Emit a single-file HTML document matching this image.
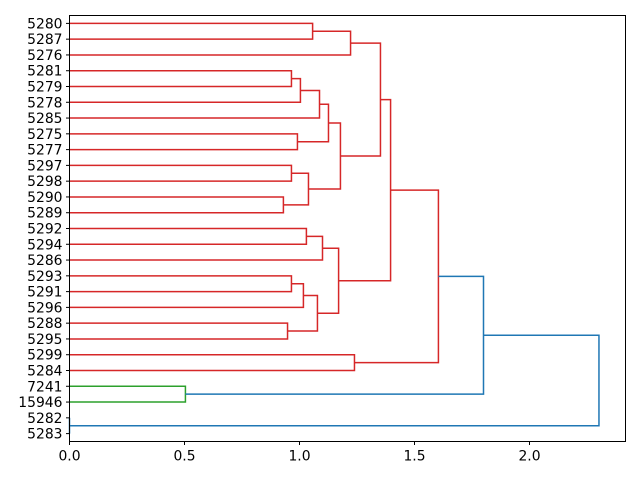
<!DOCTYPE html>
<html><head><meta charset="utf-8"><style>
body{margin:0;background:#fff}
svg{display:block;font-family:"DejaVu Sans","Liberation Sans",sans-serif}
</style></head><body>
<svg id="chart" width="640" height="480" viewBox="0 0 640 480">
<rect x="0" y="0" width="640" height="480" fill="#fff"/>
<g id="links"></g>
<rect x="69.5" y="15.5" width="556" height="426" fill="none" stroke="#000" stroke-width="1"/>
<g id="xaxis"></g>
<g id="yaxis"></g>
</svg>
<script>
const leafLabels = ["5280","5287","5276","5281","5279","5278","5285","5275","5277","5297","5298","5290","5289","5292","5294","5286","5293","5291","5296","5288","5295","5299","5284","7241","15946","5282","5283"];
const mergeLeft  = [0,27,3,29,30,7,31,9,11,34,33,28,13,39,16,41,19,42,40,38,21,46,23,48,25,50];
const mergeRight = [1,2,4,5,6,8,32,10,12,35,36,37,14,15,17,18,20,43,44,45,22,47,24,49,26,51];
const mergeDist  = [1.057,1.222,0.965,1.004,1.087,0.991,1.126,0.965,0.930,1.039,1.178,1.352,1.030,1.100,0.965,1.017,0.948,1.078,1.170,1.396,1.239,1.604,0.504,1.800,0.0,2.302];
const xTicks = [0,0.5,1.0,1.5,2.0];
const xTickLabels = ["0.0","0.5","1.0","1.5","2.0"];
const threshold = 1.613;
const clusterColors = ["#d62728","#2ca02c","#1f77b4"];
const aboveColor = "#1f77b4";

const NS="http://www.w3.org/2000/svg";
const L=69.5,R=625.5,T=15.5,B=441.5;
const xScale=d=>L+d*230;
const n=leafLabels.length;
const yScale=i=>T+(10*i+5)*(B-T)/(n*10);
const pos={},dist={};
for(let i=0;i<n;i++){pos[i]=yScale(i);dist[i]=0;}
mergeLeft.forEach((a,k)=>{const id=n+k;pos[id]=(pos[a]+pos[mergeRight[k]])/2;dist[id]=mergeDist[k];});
// colors
const color={};let ci=0;
function paint(id,c){color[id]=c;if(id>=n){const k=id-n;paint(mergeLeft[k],c);paint(mergeRight[k],c);}}
for(let k=mergeLeft.length-1;k>=0;k--){
  const id=n+k;
  if(color[id])continue;
  if(mergeDist[k]>=threshold){color[id]=aboveColor;}
}
function assign(id){
  if(id<n)return;const k=id-n;
  if(mergeDist[k]>=threshold){assign(mergeLeft[k]);assign(mergeRight[k]);}
  else{paint(id,clusterColors[Math.min(ci,clusterColors.length-1)]);ci++;}
}
assign(n+mergeLeft.length-1);
const g=document.getElementById('links');
mergeLeft.forEach((a,k)=>{
  const b=mergeRight[k],id=n+k,d=mergeDist[k];
  const p=document.createElementNS(NS,'path');
  p.setAttribute('d',`M${xScale(dist[a])},${pos[a]}H${xScale(d)}V${pos[b]}H${xScale(dist[b])}`);
  p.setAttribute('fill','none');p.setAttribute('stroke',color[id]||aboveColor);p.setAttribute('stroke-width','1.5');
  
  
  g.appendChild(p);
});
const xa=document.getElementById('xaxis');
xTicks.forEach((t,i)=>{
  const x=xScale(t);
  const l=document.createElementNS(NS,'line');
  l.setAttribute('x1',x);l.setAttribute('x2',x);l.setAttribute('y1',B);l.setAttribute('y2',B+3.5);l.setAttribute('stroke','#000');
  
  
  xa.appendChild(l);
  const tx=document.createElementNS(NS,'text');
  tx.setAttribute('x',x);tx.setAttribute('y',B+19);tx.setAttribute('text-anchor','middle');tx.setAttribute('font-size','13.9');
  tx.textContent=xTickLabels[i];
  
  
  xa.appendChild(tx);
});
const ya=document.getElementById('yaxis');
leafLabels.forEach((s,i)=>{
  const y=yScale(i);
  const l=document.createElementNS(NS,'line');
  l.setAttribute('x1',L-3.5);l.setAttribute('x2',L);l.setAttribute('y1',y);l.setAttribute('y2',y);l.setAttribute('stroke','#000');
  
  
  ya.appendChild(l);
  const tx=document.createElementNS(NS,'text');
  tx.setAttribute('x',L-7);tx.setAttribute('y',y+5);tx.setAttribute('text-anchor','end');tx.setAttribute('font-size','13.9');
  tx.textContent=s;
  
  
  ya.appendChild(tx);
});
</script>
</body></html>
